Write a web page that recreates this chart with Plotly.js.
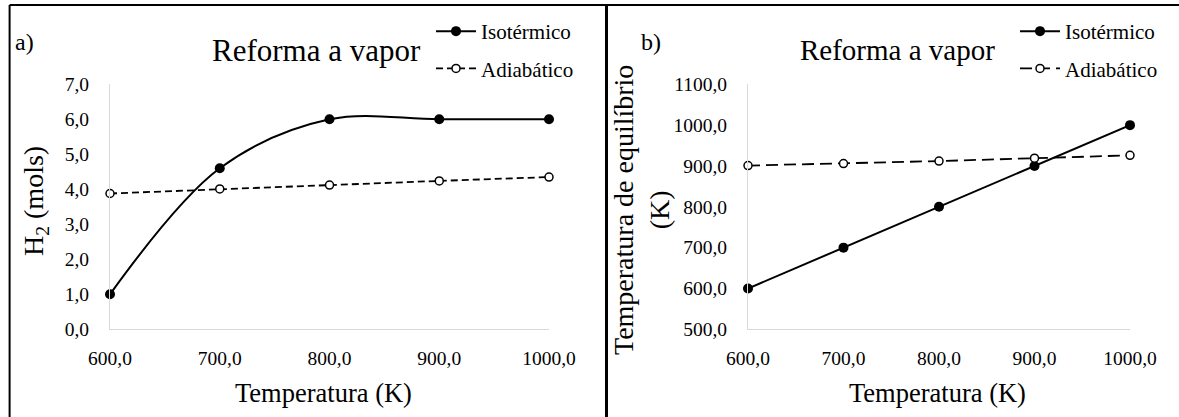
<!DOCTYPE html>
<html><head><meta charset="utf-8">
<script src="https://cdn.plot.ly/plotly-3.0.1.min.js"></script>
<style>html,body{margin:0;padding:0;background:#fff;} #chart{width:1179px;height:417px;}
#chart text{font-family:'Liberation Serif','Times New Roman',serif !important;}</style>
</head><body><div id="chart"></div>
<script>
// ---- data ----
const temperatura = [600, 700, 800, 900, 1000];
const h2Isotermico = [1.0, 4.6, 6.0, 6.0, 6.0];
const h2Adiabatico = [3.88, 4.01, 4.12, 4.24, 4.35];
const tEqIsotermico = [600, 700, 800, 900, 1000];
const tEqAdiabatico = [901, 906, 912, 919, 926];
const xTickVals = [600, 700, 800, 900, 1000];
const xTickText = ['600,0', '700,0', '800,0', '900,0', '1000,0'];
const yTickValsA = [0, 1, 2, 3, 4, 5, 6, 7];
const yTickTextA = ['0,0', '1,0', '2,0', '3,0', '4,0', '5,0', '6,0', '7,0'];
const yTickValsB = [500, 600, 700, 800, 900, 1000, 1100];
const yTickTextB = ['500,0', '600,0', '700,0', '800,0', '900,0', '1000,0', '1100,0'];
const seriesNames = ['Isotérmico', 'Adiabático'];

// ---- layout helpers ----
const W = 1179, H = 417;
const px = v => v / W;
const py = v => 1 - v / H;
const FONT = 'Liberation Serif';

const isoStyle = {line: {color: '#000', width: 2}, marker: {size: 10, color: '#000'}};
function adiaStyle(dash) {
  return {line: {color: '#000', width: 1.8, dash: dash},
          marker: {size: 8, color: '#fff', line: {color: '#000', width: 1.5}}};
}

const traces = [
  Object.assign({x: temperatura, y: h2Isotermico, xaxis: 'x', yaxis: 'y', name: seriesNames[0],
    mode: 'lines+markers', legend: 'legend', legendgroup: 'a1', cliponaxis: false}, isoStyle,
    {line: {color: '#000', width: 2, shape: 'spline', smoothing: 1}}),
  Object.assign({x: temperatura, y: h2Adiabatico, xaxis: 'x', yaxis: 'y', name: seriesNames[1],
    mode: 'lines+markers', legend: 'legend', legendgroup: 'a2', cliponaxis: false}, adiaStyle('7px,4px')),
  Object.assign({x: temperatura, y: tEqIsotermico, xaxis: 'x2', yaxis: 'y2', name: seriesNames[0],
    mode: 'lines+markers', legend: 'legend2', legendgroup: 'b1', cliponaxis: false}, isoStyle),
  Object.assign({x: temperatura, y: tEqAdiabatico, xaxis: 'x2', yaxis: 'y2', name: seriesNames[1],
    mode: 'lines+markers', legend: 'legend2', legendgroup: 'b2', cliponaxis: false}, adiaStyle('12px,6px'))
];

function xAx(domain) {
  return {domain: domain, range: [600, 1000], showline: true, linecolor: '#d9d9d9', linewidth: 1,
    showgrid: false, zeroline: false, ticks: '', tickmode: 'array', tickvals: xTickVals, ticktext: xTickText,
    tickfont: {family: FONT, size: 19.5, color: '#000'}, ticklabelstandoff: 11, fixedrange: true};
}
function yAx(range, vals, text, anchor) {
  return {domain: [py(329.3), py(84.3)], range: range, anchor: anchor, showline: true, linecolor: '#d9d9d9',
    linewidth: 1, showgrid: false, zeroline: false, ticks: '', tickmode: 'array', tickvals: vals, ticktext: text,
    tickfont: {family: FONT, size: 19.5, color: '#000'}, ticklabelstandoff: 16, fixedrange: true};
}

function legendAt(x) {
  return {x: px(x), xanchor: 'left', y: py(11), yanchor: 'top', bgcolor: 'rgba(0,0,0,0)', borderwidth: 0,
    font: {family: FONT, size: 21, color: '#000'}, traceorder: 'grouped', tracegroupgap: 7, itemwidth: 40};
}

const ann = (text, x, y, size, opts) => Object.assign({text: text, x: px(x), y: py(y), xref: 'paper', yref: 'paper',
  showarrow: false, font: {family: FONT, size: size, color: '#000'}, xanchor: 'center', yanchor: 'middle'}, opts || {});

const layout = {
  width: W, height: H, margin: {l: 0, r: 0, t: 0, b: 0, pad: 0},
  paper_bgcolor: '#fff', plot_bgcolor: '#fff', showlegend: true,
  font: {family: FONT, color: '#000'},
  xaxis: xAx([px(110), px(549)]),
  yaxis: yAx([0, 7], yTickValsA, yTickTextA, 'x'),
  xaxis2: Object.assign(xAx([px(748), px(1130)]), {anchor: 'y2'}),
  yaxis2: yAx([500, 1100], yTickValsB, yTickTextB, 'x2'),
  legend: legendAt(431),
  legend2: legendAt(1015),
  annotations: [
    ann('a)', 13, 42, 24, {xanchor: 'left'}),
    ann('Reforma a vapor', 316, 50, 31),
    ann('Temperatura (K)', 323, 393, 26.5),
    ann('H<sub>2</sub> (mols)', 35, 201, 28, {textangle: -90}),
    ann('b)', 639, 42, 24, {xanchor: 'left'}),
    ann('Reforma a vapor', 897.6, 50, 29),
    ann('Temperatura (K)', 937, 393, 26.5),
    ann('Temperatura de equilíbrio<br>(K)', 641, 210, 28, {textangle: -90})
  ],
  shapes: [
    {type: 'line', xref: 'paper', yref: 'paper', x0: px(9.6), x1: 1, y0: py(5), y1: py(5), line: {color: '#000', width: 2}},
    {type: 'line', xref: 'paper', yref: 'paper', x0: px(9.6), x1: px(9.6), y0: 0, y1: py(5), line: {color: '#000', width: 2}},
    {type: 'line', xref: 'paper', yref: 'paper', x0: px(606.5), x1: px(606.5), y0: 0, y1: py(5), line: {color: '#000', width: 3}}
  ]
};

Plotly.newPlot('chart', traces, layout, {staticPlot: true, displayModeBar: false});
</script>
</body></html>
